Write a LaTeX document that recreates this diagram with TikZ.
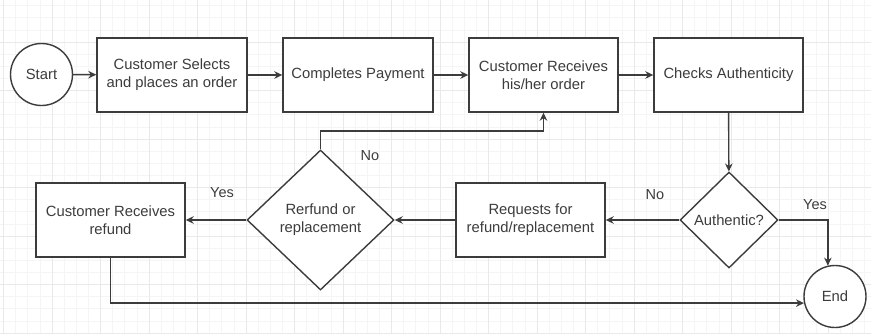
\documentclass[tikz,border=0pt]{standalone}
\usepackage{fontspec}
\setmainfont{Liberation Sans}
\usetikzlibrary{shapes.geometric,arrows.meta}
\definecolor{ink}{HTML}{3C3C3C}
\definecolor{gridmajor}{HTML}{E9E9E9}
\definecolor{gridminor}{HTML}{F5F5F5}

\begin{document}
\begin{tikzpicture}[x=1pt,y=-1pt,
  every node/.style={font=\fontsize{14.8}{17.8}\selectfont, text=ink},
  stepbox/.style={draw=ink, line width=1.4pt, fill=white, rectangle,
    minimum width=149pt, minimum height=74pt, align=center, inner sep=2pt},
  term/.style={draw=ink, line width=1.4pt, fill=white, circle,
    minimum size=62pt, inner sep=0pt},
  choice/.style={draw=ink, line width=1.4pt, fill=white, diamond,
    inner sep=0pt, align=center},
  flow/.style={draw=ink, line width=1.4pt, -{Stealth[length=8pt,width=7.5pt]}},
  lbl/.style={font=\fontsize{14.5}{17}\selectfont}]

% canvas and background grid
\useasboundingbox (0,0) rectangle (871,333);
\fill[white] (0,0) rectangle (871,333);
\begin{scope}
  \clip (0,0) rectangle (871,333);
  \foreach \i in {0,...,71} \draw[gridminor, line width=0.6pt] ({3.5+12.125*\i},0) -- ++(0,333);
  \foreach \i in {0,...,27} \draw[gridminor, line width=0.6pt] (0,{5.625+12.125*\i}) -- ++(871,0);
  \foreach \i in {0,...,17} \draw[gridmajor, line width=0.8pt] ({3.5+48.5*\i},0) -- ++(0,333);
  \foreach \i in {0,...,6} \draw[gridmajor, line width=0.8pt] (0,{42+48.5*\i}) -- ++(871,0);
\end{scope}

% top row
\node[term] (start) at (41.5,74.5) {Start};
\node[stepbox, minimum width=150pt] (select) at (172,75) {Customer Selects\\and places an order};
\node[stepbox, minimum width=150pt] (pay) at (358,75) {Completes Payment};
\node[stepbox] (recv) at (543.5,75) {Customer Receives\\his/her order};
\node[stepbox] (check) at (728.5,75) {Checks Authenticity};

% bottom row
\node[choice, minimum width=98pt, minimum height=96pt] (auth) at (729,220) {Authentic?};
\node[stepbox] (request) at (530.5,220) {Requests for\\refund/replacement};
\node[choice, minimum width=147pt, minimum height=140pt] (kind) at (320.5,220) {Rerfund or\\replacement};
\node[stepbox] (refund) at (110.5,220) {Customer Receives\\refund};
\node[term] (end) at (835,296.5) {End};

% connectors
\draw[flow] (start) -- (select);
\draw[flow] (select) -- (pay);
\draw[flow] (pay) -- (recv);
\draw[flow] (recv) -- (check);
\draw[flow] (check) -- (auth);
\draw[flow] (auth.west) -- (request.east);
\draw[flow] (request.west) -- (kind.east);
\draw[flow] (kind.west) -- (refund.east);
\draw[flow] (auth.east) -| (end.103);
\draw[flow] (refund.south) |- (end.192);
\coordinate (loop) at (320.5,131);
\draw[flow] (kind.north) -- (loop) -| (recv.south);

% branch labels
\node[lbl] (yesA) at (815,205) {Yes};
\node[lbl] (noA) at (655,195) {No};
\node[lbl] (noK) at (370,156) {No};
\node[lbl] (yesK) at (222,193) {Yes};
\end{tikzpicture}
\end{document}
